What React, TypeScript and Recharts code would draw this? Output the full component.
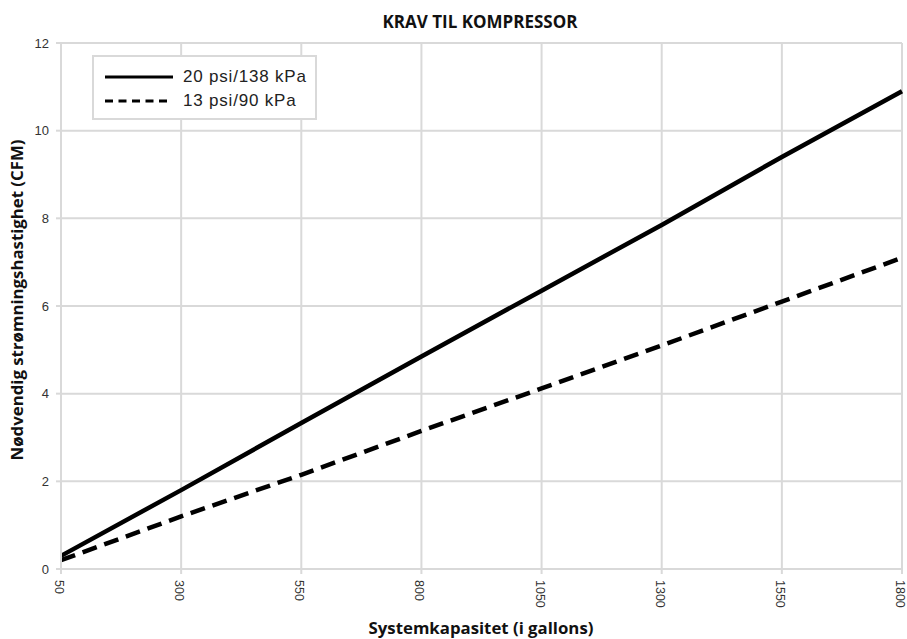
import React from 'react';
import { LineChart, Line, XAxis, YAxis, CartesianGrid } from 'recharts';

const capacities = [50, 300, 550, 800, 1050, 1300, 1550, 1800];
const flow20psi = [0.3, 1.8, 3.33, 4.85, 6.35, 7.85, 9.4, 10.9];
const flow13psi = [0.2, 1.2, 2.15, 3.15, 4.12, 5.1, 6.1, 7.1];
const yTicks = [0, 2, 4, 6, 8, 10, 12];
const seriesNames = ['20 psi/138 kPa', '13 psi/90 kPa'];

const data = capacities.map((c, i) => ({ cap: c, s20: flow20psi[i], s13: flow13psi[i] }));

const GRID = '#d9d9d9';
const FONT = '"Liberation Sans", Arial, sans-serif';
const BOLD = '"Open Sans", "DejaVu Sans", sans-serif';

const XTick = (props: any) => {
  const { x, y, payload } = props;
  const ty = y + 4;
  return (
    <text x={x} y={ty} dy={2} transform={`rotate(90, ${x}, ${ty})`} textAnchor="start" dominantBaseline="central"
      fill="#333" fontSize={12.5} fontFamily={FONT}>
      {payload.value}
    </text>
  );
};

const LegendBox = () => (
  <div style={{
    position: 'absolute', left: 92, top: 55, width: 225, height: 65, border: `2px solid ${GRID}`,
    background: '#fff', boxSizing: 'border-box', fontFamily: FONT, fontSize: 17, color: '#222',
    letterSpacing: 0.8,
  }}>
    <div style={{ position: 'absolute', left: 11, top: 8, display: 'flex', alignItems: 'center', height: 24 }}>
      <svg width={68} height={6}><line x1={0} y1={3} x2={68} y2={3} stroke="#000" strokeWidth={3} /></svg>
      <span style={{ marginLeft: 10 }}>{seriesNames[0]}</span>
    </div>
    <div style={{ position: 'absolute', left: 11, top: 32, display: 'flex', alignItems: 'center', height: 24 }}>
      <svg width={68} height={6}><line x1={0} y1={3} x2={62} y2={3} stroke="#000" strokeWidth={3} strokeDasharray="8 5.5" /></svg>
      <span style={{ marginLeft: 10 }}>{seriesNames[1]}</span>
    </div>
  </div>
);

export default function App() {
  return (
    <div style={{ position: 'absolute', left: 0, top: 0, width: 907, height: 639, background: '#fff' }}>
      <LineChart width={907} height={639} data={data} margin={{ top: 43, right: 5, bottom: 0, left: 1 }}
        style={{ overflow: 'visible' }}>
        <text x={480} y={21} textAnchor="middle" dominantBaseline="central" fontFamily={BOLD} fontWeight="bold"
          fontSize={17} fill="#111">KRAV TIL KOMPRESSOR</text>
        <text x={481} y={627} textAnchor="middle" dominantBaseline="central" fontFamily={BOLD} fontWeight="bold"
          fontSize={16.8} fill="#111">Systemkapasitet (i gallons)</text>
        <text x={16} y={300} transform="rotate(-90, 16, 300)" textAnchor="middle" dominantBaseline="central"
          fontFamily={BOLD} fontWeight="bold" fontSize={16.8} fill="#111">Nødvendig strømningshastighet (CFM)</text>
        <CartesianGrid stroke={GRID} strokeWidth={2} verticalValues={capacities} horizontalValues={yTicks} />
        <XAxis dataKey="cap" type="number" domain={[50, 1800]} ticks={capacities} interval={0} height={70}
          axisLine={{ stroke: GRID, strokeWidth: 2 }} tickLine={{ stroke: GRID, strokeWidth: 2 }} tickSize={5}
          tick={<XTick />} />
        <YAxis type="number" domain={[0, 12]} ticks={yTicks} width={60} interval={0}
          axisLine={{ stroke: GRID, strokeWidth: 2 }} tickLine={{ stroke: GRID, strokeWidth: 2 }} tickSize={5}
          tick={{ fill: '#333', fontSize: 13, fontFamily: FONT, dx: -5 }} />
        <Line type="linear" dataKey="s20" name={seriesNames[0]} stroke="#000" strokeWidth={4.5} dot={false}
          isAnimationActive={false} />
        <Line type="linear" dataKey="s13" name={seriesNames[1]} stroke="#000" strokeWidth={4.5} dot={false}
          strokeDasharray="15 8" isAnimationActive={false} />
      </LineChart>
      <LegendBox />
    </div>
  );
}
